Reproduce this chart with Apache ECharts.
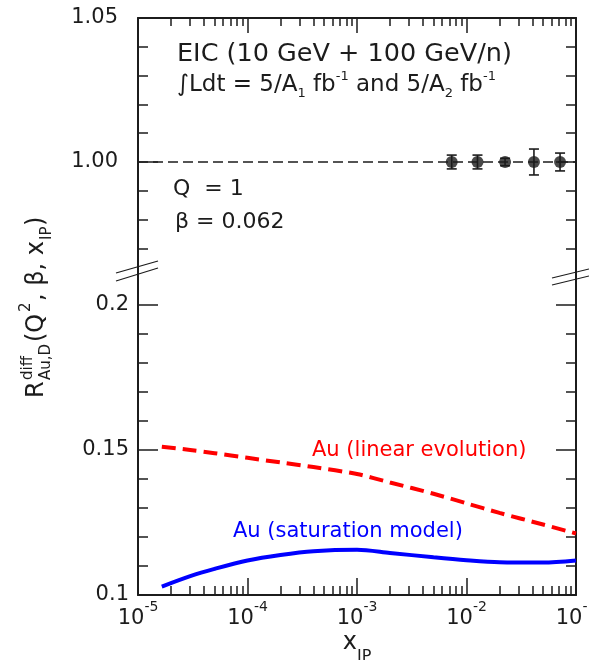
<!DOCTYPE html>
<html>
<head>
<meta charset="utf-8">
<script src="https://cdn.jsdelivr.net/npm/echarts@6/dist/echarts.min.js"></script>
<style>
  html, body { margin: 0; padding: 0; background: #ffffff; }
  #chart { width: 589px; height: 660px; }
</style>
</head>
<body>
<div id="chart"></div>
<script>
// ---- data -------------------------------------------------------------
// x_IP sample points of the two model curves
const curveX = [1.65e-5, 3e-5, 5e-5, 1e-4, 2e-4, 4e-4, 1e-3, 2e-3, 5e-3, 1e-2, 2e-2, 5e-2, 1e-1];
const linearEvolution = [0.1511, 0.1500, 0.1489, 0.1473, 0.1457, 0.1441, 0.1417, 0.1388, 0.1349, 0.1316, 0.1283, 0.1243, 0.1212];
const saturationModel = [0.1029, 0.1065, 0.1090, 0.1119, 0.1138, 0.1151, 0.1156, 0.1145, 0.1130, 0.1120, 0.1113, 0.1112, 0.1119];

// projected EIC pseudo-data around unity
const pseudoX = [0.00733, 0.0126, 0.0225, 0.0413, 0.0715];
const pseudoR = [1.0, 1.0, 1.0, 1.0, 1.0];
const pseudoErr = [0.0024, 0.0024, 0.0013, 0.0045, 0.0031];

// reference line at R = 1
const unityX = [1e-5, 1e-1];
const unityY = [1.0, 1.0];

// axis ticks
const xTickExp = [-5, -4, -3, -2, -1];
const yTopMajor = [1.00, 1.05];
const yTopLabels = ['1.00', '1.05'];
const yTopMinor = [0.97, 0.98, 0.99, 1.01, 1.02, 1.03, 1.04];
const yBotMajor = [0.1, 0.15, 0.2];
const yBotLabels = ['0.1', '0.15', '0.2'];
const yBotMinor = [0.11, 0.12, 0.13, 0.14, 0.16, 0.17, 0.18, 0.19];

// ---- styling ----------------------------------------------------------
const FONT = 'DejaVu Sans';
const INK = '#1c1c1c';
const RED = '#ff0000';
const BLUE = '#0000ff';

const X_MIN = 1e-5, X_MAX = 1e-1;
const Y_TOP = [0.96215, 1.05];
const Y_BOT = [0.1, 0.2117];

const xMajor = xTickExp.map(e => Math.pow(10, e));
const xMinor = [];
xTickExp.slice(0, -1).forEach(e => {
  for (let m = 2; m <= 9; m++) xMinor.push(m * Math.pow(10, e));
});

const chart = echarts.init(document.getElementById('chart'), null, { renderer: 'canvas' });

function xAxis(grid, position, ticks, len, opts) {
  return Object.assign({
    type: 'log', logBase: 10, gridIndex: grid, position: position,
    min: X_MIN, max: X_MAX,
    axisLine: { show: false },
    axisTick: { show: true, inside: true, length: len, customValues: ticks,
                lineStyle: { color: INK, width: 1.5 } },
    axisLabel: { show: false },
    splitLine: { show: false }
  }, opts || {});
}

function yAxis(grid, position, range, ticks, len, opts) {
  return Object.assign({
    type: 'value', gridIndex: grid, position: position,
    min: range[0], max: range[1],
    axisLine: { show: false },
    axisTick: { show: true, inside: true, length: len, customValues: ticks,
                lineStyle: { color: INK, width: 1.5 } },
    axisLabel: { show: false },
    splitLine: { show: false }
  }, opts || {});
}

const frameLine = { show: true, onZero: false, lineStyle: { color: INK, width: 2 } };

const xAxes = [
  // top frame edge (upper panel)
  xAxis(0, 'top', xMajor, 15, { axisLine: frameLine }),
  xAxis(0, 'top', xMinor, 8),
  // bottom frame edge (lower panel) with decade labels
  xAxis(1, 'bottom', xMajor, 17, {
    axisLine: frameLine,
    axisLabel: {
      show: true, customValues: xMajor, margin: 5, hideOverlap: false,
      formatter: v => '{b|10}{s|' + xTickExp[xMajor.indexOf(v)] + '}',
      rich: {
        b: { fontFamily: FONT, fontSize: 21, color: INK, lineHeight: 38 },
        s: { fontFamily: FONT, fontSize: 14, color: INK, lineHeight: 14, verticalAlign: 'top' }
      }
    },
    name: '{x|x}{sb|IP}', nameLocation: 'middle', nameGap: 36,
    nameTextStyle: {
      rich: {
        x: { fontFamily: FONT, fontSize: 24, color: INK, lineHeight: 24, verticalAlign: 'top' },
        sb: { fontFamily: FONT, fontSize: 16, color: INK, lineHeight: 34, verticalAlign: 'bottom' }
      }
    }
  }),
  xAxis(1, 'bottom', xMinor, 9)
];

const yAxes = [
  // upper panel: 0.96 .. 1.05
  yAxis(0, 'left', Y_TOP, yTopMajor, 20, {
    axisLine: frameLine,
    axisLabel: { show: true, customValues: yTopMajor, margin: 20,
      formatter: v => yTopLabels[yTopMajor.indexOf(v)],
      fontFamily: FONT, fontSize: 21, color: INK }
  }),
  yAxis(0, 'left', Y_TOP, yTopMinor, 10),
  yAxis(0, 'right', Y_TOP, yTopMajor, 20, { axisLine: frameLine }),
  yAxis(0, 'right', Y_TOP, yTopMinor, 10),
  // lower panel: 0.1 .. 0.21
  yAxis(1, 'left', Y_BOT, yBotMajor, 20, {
    axisLine: frameLine,
    axisLabel: { show: true, customValues: yBotMajor, margin: 9,
      formatter: v => yBotLabels[yBotMajor.indexOf(v)],
      fontFamily: FONT, fontSize: 21, color: INK }
  }),
  yAxis(1, 'left', Y_BOT, yBotMinor, 10),
  yAxis(1, 'right', Y_BOT, yBotMajor, 20, { axisLine: frameLine }),
  yAxis(1, 'right', Y_BOT, yBotMinor, 10)
];

const zip = (a, b) => a.map((v, i) => [v, b[i]]);

const series = [
  {
    name: 'unity', type: 'line', xAxisIndex: 0, yAxisIndex: 0,
    data: zip(unityX, unityY), symbol: 'none', silent: true,
    lineStyle: { color: INK, width: 1.5, type: [10, 5] }, z: 2
  },
  {
    name: 'errors', type: 'custom', xAxisIndex: 0, yAxisIndex: 0,
    data: pseudoX.map((x, i) => [x, pseudoR[i] - pseudoErr[i], pseudoR[i] + pseudoErr[i]]),
    encode: { x: 0, y: [1, 2] },
    renderItem: (params, api) => {
      const x = api.value(0);
      const lo = api.coord([x, api.value(1)]);
      const hi = api.coord([x, api.value(2)]);
      const w = 5;
      const st = { stroke: INK, lineWidth: 1.6 };
      return {
        type: 'group',
        children: [
          { type: 'line', shape: { x1: lo[0], y1: lo[1], x2: hi[0], y2: hi[1] }, style: st },
          { type: 'line', shape: { x1: lo[0] - w, y1: lo[1], x2: lo[0] + w, y2: lo[1] }, style: st },
          { type: 'line', shape: { x1: hi[0] - w, y1: hi[1], x2: hi[0] + w, y2: hi[1] }, style: st }
        ]
      };
    },
    z: 3
  },
  {
    name: 'EIC pseudo-data', type: 'scatter', xAxisIndex: 0, yAxisIndex: 0,
    data: zip(pseudoX, pseudoR), symbol: 'circle', symbolSize: 12,
    itemStyle: { color: INK }, z: 4
  },
  {
    name: 'Au (linear evolution)', type: 'line', xAxisIndex: 2, yAxisIndex: 4,
    data: zip(curveX, linearEvolution), symbol: 'none', smooth: 0.3,
    lineStyle: { color: RED, width: 4, type: [14, 7] }
  },
  {
    name: 'Au (saturation model)', type: 'line', xAxisIndex: 2, yAxisIndex: 4,
    data: zip(curveX, saturationModel), symbol: 'none', smooth: 0.3,
    lineStyle: { color: BLUE, width: 4 }
  }
];

const txt = (size, color) => ({ fontFamily: FONT, fontSize: size, fontWeight: 'normal', color: color || INK, lineHeight: size });

const titles = [
  { text: 'EIC (10 GeV + 100 GeV/n)', left: 177, top: 42, padding: 0, textStyle: txt(25.5) },
  {
    text: '{m|\u222BLdt = 5/A}{sb|1}{m| fb}{sp|-1}{m| and 5/A}{sb|2}{m| fb}{sp|-1}',
    left: 177, top: 70, padding: 0,
    textStyle: {
      fontWeight: 'normal',
      rich: {
        m: { fontFamily: FONT, fontSize: 23, fontWeight: 'normal', color: INK, lineHeight: 30 },
        sb: { fontFamily: FONT, fontSize: 13, fontWeight: 'normal', color: INK, lineHeight: 13, verticalAlign: 'bottom' },
        sp: { fontFamily: FONT, fontSize: 13, fontWeight: 'normal', color: INK, lineHeight: 10, verticalAlign: 'top' }
      }
    }
  },
  { text: 'Q  = 1', left: 173, top: 178, padding: 0, textStyle: txt(22) },
  { text: '\u03B2 = 0.062', left: 175, top: 211, padding: 0, textStyle: txt(22) },
  { text: 'Au (linear evolution)', left: 312, top: 440, padding: 0, textStyle: txt(21, RED) },
  { text: 'Au (saturation model)', left: 233, top: 521, padding: 0, textStyle: txt(21, BLUE) }
];

// rotated y-axis title: R^diff_{Au,D}(Q^2, beta, x_IP)
const ts = (size) => ({ fontFamily: FONT, fontSize: size, fill: INK, verticalAlign: 'middle', align: 'left' });
const yTitle = {
  type: 'group', x: 37, y: 398, rotation: Math.PI / 2,
  children: [
    { type: 'text', x: 0, y: 0, style: Object.assign({ text: 'R' }, ts(24)) },
    { type: 'text', x: 18, y: -9, style: Object.assign({ text: 'diff' }, ts(15)) },
    { type: 'text', x: 18, y: 9, style: Object.assign({ text: 'Au,D' }, ts(15)) },
    { type: 'text', x: 56, y: 0, style: Object.assign({ text: '(Q' }, ts(24)) },
    { type: 'text', x: 86, y: -11, style: Object.assign({ text: '2' }, ts(15)) },
    { type: 'text', x: 97, y: 0, style: Object.assign({ text: ', \u03B2, x' }, ts(24)) },
    { type: 'text', x: 158, y: 10, style: Object.assign({ text: 'IP' }, ts(15)) },
    { type: 'text', x: 172, y: 0, style: Object.assign({ text: ')' }, ts(24)) }
  ]
};

// double-slash marks where the value axis is broken
const brk = (x1, y1, x2, y2) => ({
  type: 'line', shape: { x1, y1, x2, y2 }, style: { stroke: INK, lineWidth: 1.2 }, z: 10
});
const graphics = [
  yTitle,
  brk(116, 273, 158, 261), brk(116, 281, 158, 268),
  brk(552, 278, 589, 269), brk(552, 285, 589, 276)
];

chart.setOption({
  animation: false,
  backgroundColor: '#ffffff',
  title: titles,
  grid: [
    { left: 138, right: 13, top: 18, height: 253, outerBoundsMode: 'none', containLabel: false },
    { left: 138, right: 13, top: 271, height: 324, outerBoundsMode: 'none', containLabel: false }
  ],
  xAxis: xAxes,
  yAxis: yAxes,
  series: series,
  graphic: graphics
});
</script>
</body>
</html>
